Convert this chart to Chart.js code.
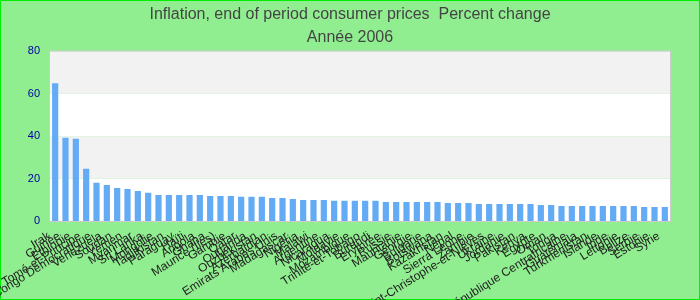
<!DOCTYPE html>
<html>
<head>
<meta charset="utf-8">
<script src="https://cdn.jsdelivr.net/npm/chart.js@4/dist/chart.umd.min.js"></script>
<style>
html,body{margin:0;padding:0;background:#90ee90;}
#wrap{width:700px;height:300px;position:relative;}
canvas{display:block;}
</style>
</head>
<body>
<div id="wrap"><canvas id="c" width="700" height="300"></canvas></div>
<script>
const titleLines = ["Inflation, end of period consumer prices  Percent change", "Année 2006"];

const countries = [
  "Irak", "Guinée", "Ethiopie", "Sao Tomé-et-Principe", "Congo Démocratique",
  "Venezuela", "Soudan", "Yémen", "Myanmar", "Sri Lanka",
  "Mongolie", "Tadjikistan", "Paraguay", "Haïti", "Angola",
  "Ghana", "Maurice (Iles)", "Gambie", "Qatar", "Ouganda",
  "Ouzbékistan", "Azerbaïdjan", "Emirats Arabes Unis", "Madagascar", "Nigéria",
  "Malawi", "Argentine", "Nicaragua", "Moldavie", "Mozambique",
  "Trinité-et-Tobago", "Burundi", "Erythrée", "Russie", "Mauritanie",
  "Géorgie", "Bulgarie", "Botswana", "Kazakhstan", "Népal",
  "Sierra Leone", "Zambie", "Saint-Christophe-et-Niévès", "Ukraine", "Jordanie",
  "Pakistan", "Kenya", "Egypte", "Oman", "Tonga",
  "République Centrafricaine", "Guatemala", "Turkménistan", "Islande", "Inde",
  "Lettonie", "Belize", "Serbie", "Estonie", "Syrie"
];

const inflation = [
  65.0, 39.3, 38.8, 24.6, 18.0,
  17.0, 15.6, 15.1, 14.2, 13.3,
  12.3, 12.3, 12.3, 12.3, 12.3,
  11.8, 11.8, 11.8, 11.4, 11.4,
  11.4, 10.9, 10.9, 10.4, 9.9,
  9.9, 9.9, 9.5, 9.5, 9.5,
  9.5, 9.5, 9.0, 9.0, 9.0,
  9.0, 9.0, 9.0, 8.5, 8.5,
  8.5, 8.0, 8.0, 8.0, 8.0,
  8.0, 8.0, 7.6, 7.6, 7.1,
  7.1, 7.1, 7.1, 7.1, 7.1,
  7.1, 7.1, 6.6, 6.6, 6.6
];

const yTicks = [0, 20, 40, 60, 80];

const frame = {
  id: 'frame',
  beforeDraw(chart) {
    const ctx = chart.ctx;
    const a = chart.chartArea;
    const y = chart.scales.y;
    ctx.save();
    ctx.fillStyle = '#90ee90';
    ctx.fillRect(0, 0, chart.width, chart.height);
    ctx.strokeStyle = '#00ee00';
    ctx.lineWidth = 1;
    ctx.strokeRect(0.5, 0.5, chart.width - 1, chart.height - 1);
    for (let i = 0; i < yTicks.length - 1; i++) {
      const top = y.getPixelForValue(yTicks[i + 1]);
      const bot = y.getPixelForValue(yTicks[i]);
      ctx.fillStyle = (i % 2 === 0) ? '#ffffff' : '#f2f2f2';
      ctx.fillRect(a.left, top, a.right - a.left, bot - top);
    }
    ctx.strokeStyle = '#cccccc';
    ctx.strokeRect(a.left - 0.5, a.top - 0.5, a.right - a.left + 1, a.bottom - a.top + 1);
    ctx.restore();
  }
};

new Chart(document.getElementById('c'), {
  type: 'bar',
  data: {
    labels: countries,
    datasets: [{
      data: inflation,
      backgroundColor: '#63abf5',
      borderWidth: 0,
      barPercentage: 0.6,
      categoryPercentage: 1.0
    }]
  },
  options: {
    responsive: false,
    animation: false,
    layout: { padding: 0 },
    plugins: {
      legend: { display: false },
      tooltip: { enabled: false },
      title: {
        display: true,
        text: titleLines,
        color: '#444444',
        font: { family: '"Liberation Sans", Arial, sans-serif', size: 16, weight: 'normal', lineHeight: 1.45 },
        padding: { top: 3, bottom: 2 }
      }
    },
    scales: {
      x: {
        grid: { display: false, drawTicks: false },
        border: { display: false },
        ticks: {
          autoSkip: false,
          minRotation: 32,
          maxRotation: 32,
          padding: 8,
          labelOffset: -6,
          color: '#222222',
          font: { family: '"Liberation Sans", Arial, sans-serif', size: 12 }
        },
        afterFit(scale) { scale.height = 79; }
      },
      y: {
        min: 0,
        max: 80,
        afterBuildTicks(scale) { scale.ticks = yTicks.map(v => ({ value: v })); },
        grid: { display: false, drawTicks: false },
        border: { display: false },
        ticks: {
          padding: 10,
          color: '#0000a0',
          font: { family: '"Liberation Sans", Arial, sans-serif', size: 11 }
        },
        afterFit(scale) { scale.width = 50; }
      },
      yRight: {
        position: 'right',
        min: 0,
        max: 80,
        grid: { display: false, drawTicks: false },
        border: { display: false },
        ticks: { display: false },
        afterFit(scale) { scale.width = 30; }
      }
    }
  },
  plugins: [frame]
});
</script>
</body>
</html>
